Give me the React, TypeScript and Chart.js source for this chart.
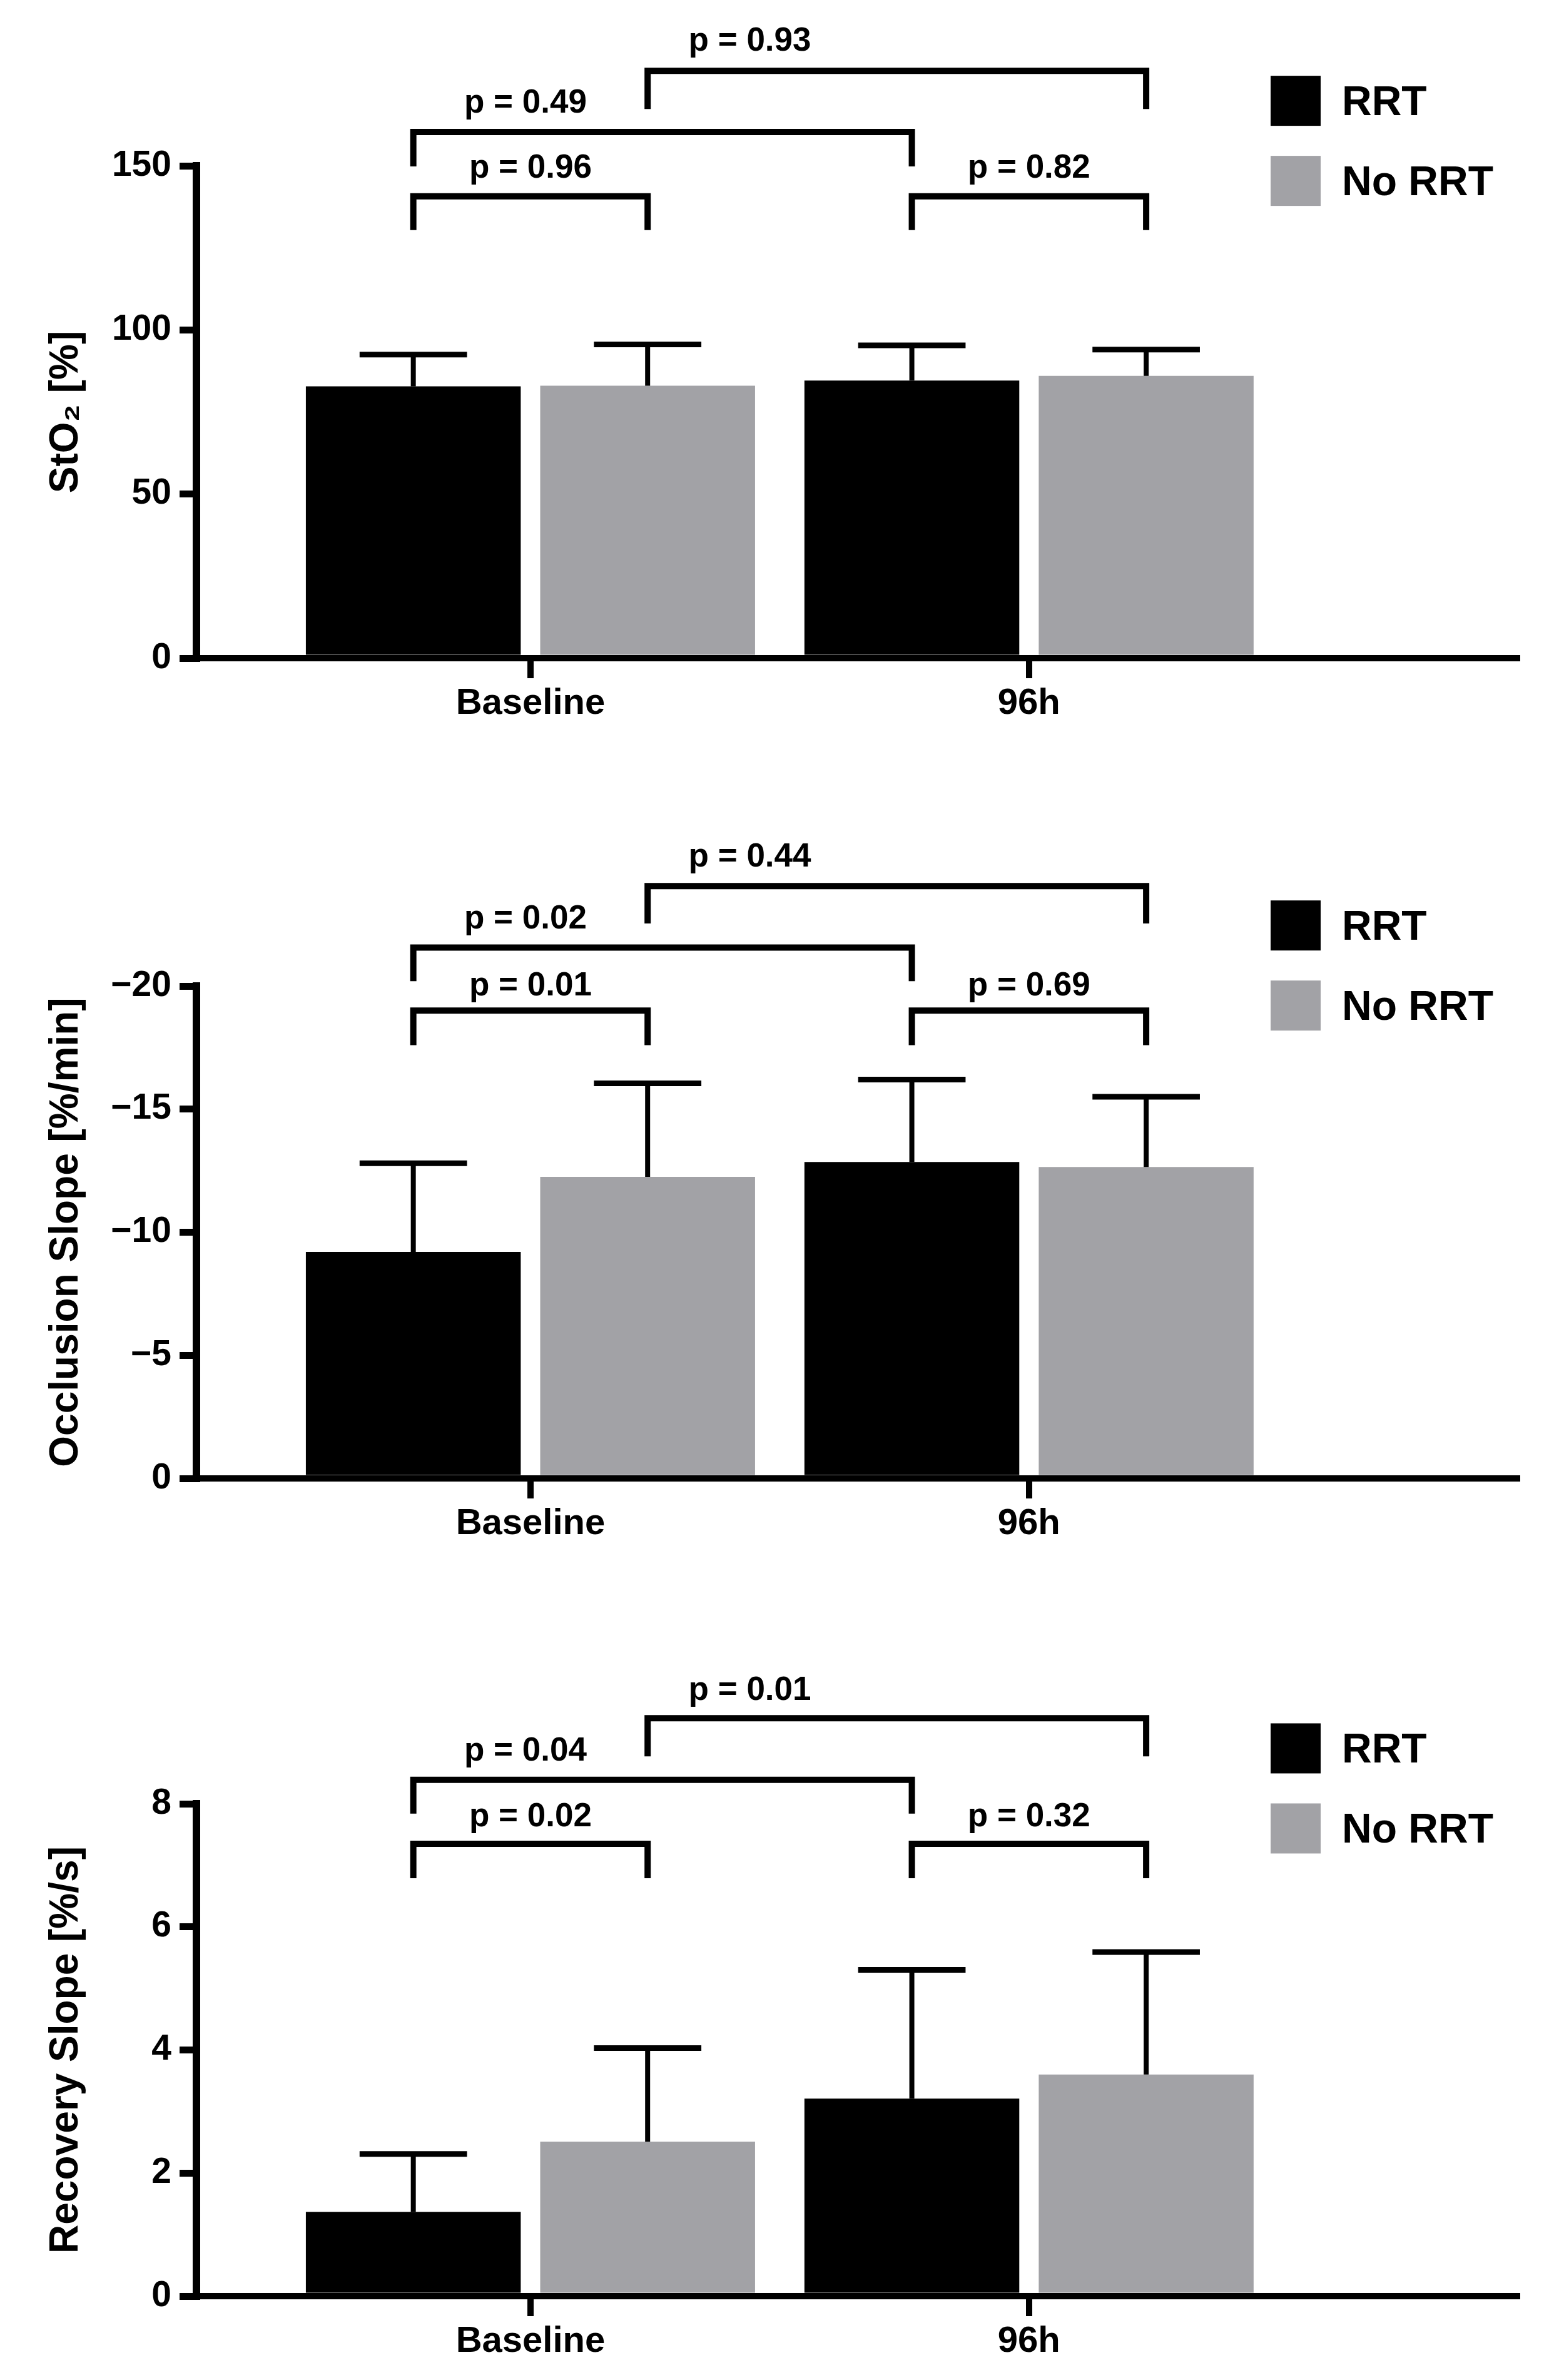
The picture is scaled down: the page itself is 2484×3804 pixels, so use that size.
import React, { useEffect, useRef } from "react";
import { Chart, registerables } from "chart.js";

Chart.register(...registerables);

Chart.defaults.font.family = "'Liberation Sans', Arial, Helvetica, sans-serif";
Chart.defaults.color = "#000";

// ---- data ----
const timepoints = ["Baseline", "96h"];
const groups = ["RRT", "No RRT"];
const groupColors = ["#000000", "#a2a2a6"];

// comparisons: [dataset, index] -> [dataset, index]
// order: RRT vs No RRT at Baseline, RRT vs No RRT at 96h, RRT Baseline vs 96h, No RRT Baseline vs 96h
const comparisons = [
    [[0, 0], [1, 0]],
    [[0, 1], [1, 1]],
    [[0, 0], [0, 1]],
    [[1, 0], [1, 1]],
];

// StO2 [%]
const sto2Rrt = [82.8, 84.6];
const sto2RrtSd = [9.7, 10.7];
const sto2NoRrt = [83.0, 86.0];
const sto2NoRrtSd = [12.6, 8.0];
const sto2P = [0.96, 0.82, 0.49, 0.93];

// Occlusion slope [%/min]
const occRrt = [-9.2, -12.85];
const occRrtSd = [3.6, 3.35];
const occNoRrt = [-12.25, -12.65];
const occNoRrtSd = [3.8, 2.85];
const occP = [0.01, 0.69, 0.02, 0.44];

// Recovery slope [%/s]
const recRrt = [1.37, 3.21];
const recRrtSd = [0.94, 2.09];
const recNoRrt = [2.51, 3.6];
const recNoRrtSd = [1.52, 1.99];
const recP = [0.02, 0.32, 0.04, 0.01];

const AREA_TOP = 265;
const AREA_BOTTOM = 1052;
const X_AXIS_H = 120;

interface PanelProps {
    height: number;
    title: string;
    rrt: number[];
    rrtSd: number[];
    noRrt: number[];
    noRrtSd: number[];
    p: number[];
    yMin: number;
    yMax: number;
    step: number;
    reverse?: boolean;
    // [bracket line, leg end, label baseline, label x (null = centred)] in axis units
    levels: (number | null)[][];
    legendY: number;
}

const minus = (v: number) => (v < 0 ? "\u2212" + Math.abs(v) : String(v));

const Panel: React.FC<PanelProps> = (props) => {
    const canvasRef = useRef<HTMLCanvasElement | null>(null);

    useEffect(() => {
        const ctx = canvasRef.current?.getContext("2d");
        if (!ctx) return;

        const means = [props.rrt, props.noRrt];
        const sds = [props.rrtSd, props.noRrtSd];

        const overlay = {
            id: "overlay",
            afterDatasetsDraw(chart: any) {
                const c = chart.ctx;
                const y = chart.scales.y;
                c.save();
                c.strokeStyle = "#000";
                c.lineCap = "butt";
                means.forEach((vals, di) => {
                    const meta = chart.getDatasetMeta(di);
                    meta.data.forEach((bar: any, i: number) => {
                        const mean = vals[i];
                        const tip = mean + Math.sign(mean) * sds[di][i];
                        const y0 = y.getPixelForValue(mean);
                        const y1 = y.getPixelForValue(tip);
                        const half = bar.width * 0.25;
                        c.lineWidth = 8;
                        c.beginPath();
                        c.moveTo(bar.x, y0);
                        c.lineTo(bar.x, y1);
                        c.stroke();
                        c.lineWidth = 9;
                        c.beginPath();
                        c.moveTo(bar.x - half, y1);
                        c.lineTo(bar.x + half, y1);
                        c.stroke();
                    });
                });
                c.restore();
            },
            afterDraw(chart: any) {
                const c = chart.ctx;
                const y = chart.scales.y;
                const x = chart.scales.x;
                c.save();
                c.strokeStyle = "#000";
                c.fillStyle = "#000";
                c.lineWidth = 10;
                c.lineJoin = "miter";
                c.font = "bold 53px 'Liberation Sans', Arial, sans-serif";
                c.textAlign = "center";
                c.textBaseline = "alphabetic";
                comparisons.forEach((pair, k) => {
                    const [a, b] = pair;
                    const xa = chart.getDatasetMeta(a[0]).data[a[1]].x;
                    const xb = chart.getDatasetMeta(b[0]).data[b[1]].x;
                    const [lineV, legV, textV, textX] = props.levels[k];
                    const yl = y.getPixelForValue(lineV);
                    const yg = y.getPixelForValue(legV);
                    c.beginPath();
                    c.moveTo(xa, yg);
                    c.lineTo(xa, yl);
                    c.lineTo(xb, yl);
                    c.lineTo(xb, yg);
                    c.stroke();
                    const tx = textX === null ? (xa + xb) / 2 : x.getPixelForValue(textX as number);
                    c.fillText("p = " + props.p[k].toFixed(2), tx, y.getPixelForValue(textV as number));
                });

                // legend
                const ly = y.getPixelForValue(props.legendY);
                c.font = "bold 66px 'Liberation Sans', Arial, sans-serif";
                c.textAlign = "left";
                groups.forEach((g, i) => {
                    const yc = ly + i * 128;
                    c.fillStyle = groupColors[i];
                    c.fillRect(2031, yc - 40, 80, 80);
                    c.fillStyle = "#000";
                    c.fillText(g, 2145, yc + 23);
                });
                c.restore();
            },
        };

        const chart = new Chart(ctx, {
            type: "bar",
            data: {
                datasets: groups.map((g, di) => ({
                    label: g,
                    data: means[di].map((v, i) => ({ x: i, y: v })),
                    backgroundColor: groupColors[di],
                    borderWidth: 0,
                    categoryPercentage: 0.94,
                    barPercentage: 0.917,
                })),
            },
            options: {
                responsive: false,
                animation: false,
                devicePixelRatio: 1,
                layout: {
                    padding: {
                        top: AREA_TOP,
                        left: 0,
                        right: 59,
                        bottom: props.height - AREA_BOTTOM - X_AXIS_H,
                    },
                },
                plugins: {
                    legend: { display: false },
                    tooltip: { enabled: false },
                },
                scales: {
                    x: {
                        type: "linear",
                        min: -0.67,
                        max: 1.979,
                        offset: false,
                        z: 1,
                        afterBuildTicks: (scale: any) => {
                            scale.ticks = timepoints.map((_, i) => ({ value: i }));
                        },
                        afterFit: (scale: any) => {
                            scale.height = X_AXIS_H;
                        },
                        ticks: {
                            callback: (v: any) => timepoints[v] ?? "",
                            font: { size: 58, weight: "bold" },
                            color: "#000",
                            padding: 6,
                            maxRotation: 0,
                            autoSkip: false,
                        },
                        grid: {
                            offset: false,
                            drawOnChartArea: false,
                            drawTicks: true,
                            tickLength: 32,
                            tickWidth: 10,
                            lineWidth: 10,
                            color: "#000",
                            tickColor: "#000",
                        },
                        border: { display: true, width: 10, color: "#000" },
                    },
                    y: {
                        type: "linear",
                        min: props.yMin,
                        max: props.yMax,
                        reverse: !!props.reverse,
                        z: 1,
                        afterFit: (scale: any) => {
                            scale.width = 314;
                        },
                        ticks: {
                            stepSize: props.step,
                            callback: (v: any) => minus(Number(v)),
                            font: { size: 57, weight: "bold" },
                            color: "#000",
                            padding: 13,
                        },
                        grid: {
                            drawOnChartArea: false,
                            drawTicks: true,
                            tickLength: 27,
                            tickWidth: 11,
                            lineWidth: 11,
                            color: "#000",
                            tickColor: "#000",
                        },
                        border: { display: true, width: 12, color: "#000" },
                        title: {
                            display: true,
                            text: props.title,
                            font: { size: 64, weight: "bold" },
                            color: "#000",
                            padding: { top: 68, bottom: 0 },
                        },
                    },
                },
            },
            plugins: [overlay],
        } as any);

        return () => {
            chart.destroy();
        };
    }, []);

    return (
        <canvas
            ref={canvasRef}
            width={2484}
            height={props.height}
            style={{ display: "block", width: 2484, height: props.height }}
        ></canvas>
    );
};

export default function App() {
    useEffect(() => {
        document.body.style.margin = "0";
        document.body.style.background = "#fff";
    }, []);

    return (
        <div style={{ width: 2484, background: "#fff" }}>
            <Panel
                height={1311}
                title={"StO\u2082 [%]"}
                rrt={sto2Rrt}
                rrtSd={sto2RrtSd}
                noRrt={sto2NoRrt}
                noRrtSd={sto2NoRrtSd}
                p={sto2P}
                yMin={0}
                yMax={150}
                step={50}
                levels={[
                    [140.7, 130.4, 146.4, null],
                    [140.7, 130.4, 146.4, null],
                    [160.3, 149.8, 166.2, -0.01],
                    [178.9, 167.3, 185.0, 0.44],
                ]}
                legendY={169.8}
            />
            <Panel
                height={1307}
                title="Occlusion Slope [%/min]"
                rrt={occRrt}
                rrtSd={occRrtSd}
                noRrt={occNoRrt}
                noRrtSd={occNoRrtSd}
                p={occP}
                yMin={-20}
                yMax={0}
                step={5}
                reverse
                levels={[
                    [-19.0, -17.6, -19.63, null],
                    [-19.0, -17.6, -19.63, null],
                    [-21.56, -20.2, -22.33, -0.01],
                    [-24.06, -22.54, -24.85, 0.44],
                ]}
                legendY={-22.46}
            />
            <Panel
                height={1186}
                title="Recovery Slope [%/s]"
                rrt={recRrt}
                rrtSd={recRrtSd}
                noRrt={recNoRrt}
                noRrtSd={recNoRrtSd}
                p={recP}
                yMin={0}
                yMax={8}
                step={2}
                levels={[
                    [7.35, 6.79, 7.63, null],
                    [7.35, 6.79, 7.63, null],
                    [8.39, 7.84, 8.7, -0.01],
                    [9.39, 8.77, 9.69, 0.44],
                ]}
                legendY={8.9}
            />
        </div>
    );
}
